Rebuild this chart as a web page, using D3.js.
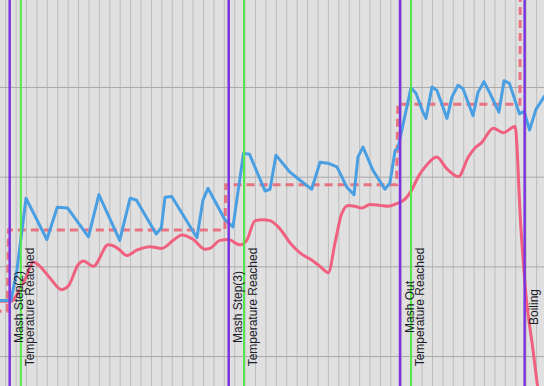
<!DOCTYPE html>
<html><head><meta charset="utf-8">
<script src="https://cdn.jsdelivr.net/npm/d3@7/dist/d3.min.js"></script>
<style>html,body{margin:0;padding:0;background:#e0e0e0;overflow:hidden;} svg{display:block;}</style>
</head><body><svg id="c" width="544" height="386"></svg>
<script>
// grid ticks
const minuteTicks = d3.range(0, 52);
const tempTicks = [50, 60, 70, 80];

// blue sensor
const blueTime = [-1.08,0.56,1.13,2.0,4.0,5.0,6.0,8.0,9.0,11.0,12.0,12.6,14.5,15.0,15.35,16.0,18.42,19.0,19.48,21.11,21.88,22.89,23.47,24.96,25.44,26.01,27.36,28.32,29.44,30.24,31.01,31.87,32.83,33.51,33.89,34.37,35.33,36.48,36.96,37.45,37.73,38.98,39.46,40.13,40.42,41.0,41.48,42.44,42.92,43.5,43.98,44.94,45.42,45.99,46.57,47.43,47.92,48.44,49.4,49.84,50.37,50.99,51.76,52.33];
const blueTemp = [56.2,56.2,59.6,67.6,63.0,66.6,66.5,63.3,68.0,62.9,67.6,67.4,63.6,64.3,67.7,67.8,63.2,67.4,68.7,65.2,64.4,72.6,72.5,68.4,68.6,72.4,70.5,69.6,68.6,71.6,71.5,71.1,68.8,68.0,72.2,73.3,70.7,68.6,69.3,72.9,73.2,79.9,79.3,77.2,76.5,80.0,79.6,76.5,78.9,80.2,79.8,76.8,79.4,80.6,79.3,77.2,80.7,80.4,77.0,77.3,75.2,77.5,78.9,79.7];

// pink sensor
const pinkTime = [-1.08,0.56,1.1,2.0,2.7,3.34,4.3,5.43,6.06,7.02,7.5,8.46,9.9,10.55,11.03,11.67,12.63,13.91,15.03,16.15,16.96,18.07,19.19,19.67,20.63,21.43,22.55,23.2,24.0,24.79,25.44,26.23,27.52,28.32,29.44,30.24,31.04,31.68,32.33,32.96,33.6,34.25,35.04,36.0,36.8,37.61,38.41,39.05,39.68,40.49,41.45,42.41,43.53,44.49,45.13,45.77,46.89,47.85,48.97,49.55,50.03,50.7,51.37];
const pinkTemp = [56.1,56.1,56.8,58.8,60.5,60.0,58.7,57.4,57.8,60.2,60.6,60.0,62.4,62.2,61.8,61.2,61.8,62.2,62.0,62.9,63.5,63.0,61.9,62.0,62.9,63.0,62.4,62.9,65.1,65.2,65.1,64.4,62.4,61.5,60.7,60.0,59.3,62.6,65.9,66.8,66.7,66.5,66.9,66.8,66.7,67.0,67.5,68.5,70.0,71.3,72.2,70.9,70.0,72.2,73.2,73.8,75.4,74.9,75.6,64.1,56.8,50.7,44.5];

// target (setpoint)
const setTime = [-1.1,0.2,0.32,21.1,21.2,37.6,37.72,49.45,49.5,53];
const setTemp = [55,55,64.05,64.05,69.1,69.1,78.07,78.07,100,100];

// events
const eventNames = ["Mash Step(2)", "Mash Step(3)", "Mash Out", "Boiling"];
const eventTimes = [0.43, 21.47, 37.93, 49.9];
const reachedName = "Temperature Reached";
const reachedTimes = [1.5, 22.94, 38.98];

const W = 544, H = 386;
const svg = d3.select("#c");
const x = d3.scaleLinear().domain([-0.5, 51.76]).range([0, W]);
const y = d3.scaleLinear().domain([46.66, 89.70]).range([H, 0]);

svg.append("rect").attr("width", W).attr("height", H).attr("fill", "#e0e0e0");

// vertical grid via axis
svg.append("g").call(d3.axisBottom(x).tickValues(minuteTicks).tickSize(H).tickFormat(""))
  .call(g => g.select(".domain").remove())
  .call(g => g.selectAll(".tick line").attr("stroke", "#bdbdbd").attr("stroke-width", 1));
// horizontal grid via axis
svg.append("g").call(d3.axisRight(y).tickValues(tempTicks).tickSize(W).tickFormat(""))
  .call(g => g.select(".domain").remove())
  .call(g => g.selectAll(".tick line").attr("stroke", "#a9a9a9").attr("stroke-width", 1));

const line = d3.line().x(d => x(d[0])).y(d => y(d[1]));

svg.append("path").datum(d3.zip(setTime, setTemp))
  .attr("d", line).attr("fill", "none")
  .attr("stroke", "rgba(232,96,110,0.85)").attr("stroke-width", 3)
  .attr("stroke-dasharray", "8,5");

svg.append("path").datum(d3.zip(pinkTime, pinkTemp))
  .attr("d", line.curve(d3.curveMonotoneX)).attr("fill", "none")
  .attr("stroke", "#f0607f").attr("stroke-width", 3).attr("stroke-linejoin", "round");

svg.append("path").datum(d3.zip(blueTime, blueTemp))
  .attr("d", d3.line().x(d => x(d[0])).y(d => y(d[1]))).attr("fill", "none")
  .attr("stroke", "#4a9fe3").attr("stroke-width", 3).attr("stroke-linejoin", "round");

// event lines
svg.selectAll(".ev").data(eventTimes).join("line")
  .attr("x1", d => x(d)).attr("x2", d => x(d)).attr("y1", 0).attr("y2", H)
  .attr("stroke", "#7a33dd").attr("stroke-width", 2.5);
svg.selectAll(".rc").data(reachedTimes).join("line")
  .attr("x1", d => x(d)).attr("x2", d => x(d)).attr("y1", 0).attr("y2", H)
  .attr("stroke", "#55e84a").attr("stroke-width", 2);

const labelY = 307;
function labels(times, textFn) {
  svg.append("g").selectAll("text").data(times).join("text")
    .attr("transform", d => `translate(${x(d)},${labelY}) rotate(-90)`)
    .attr("x", 0).attr("y", 13.5)
    .attr("text-anchor", "middle")
    .attr("font-family", "'Liberation Sans', Arial, sans-serif")
    .attr("font-size", 12).attr("fill", "#1c1c2a")
    .text(textFn);
}
labels(eventTimes, (d, i) => eventNames[i]);
labels(reachedTimes, () => reachedName);
</script>
</body></html>
